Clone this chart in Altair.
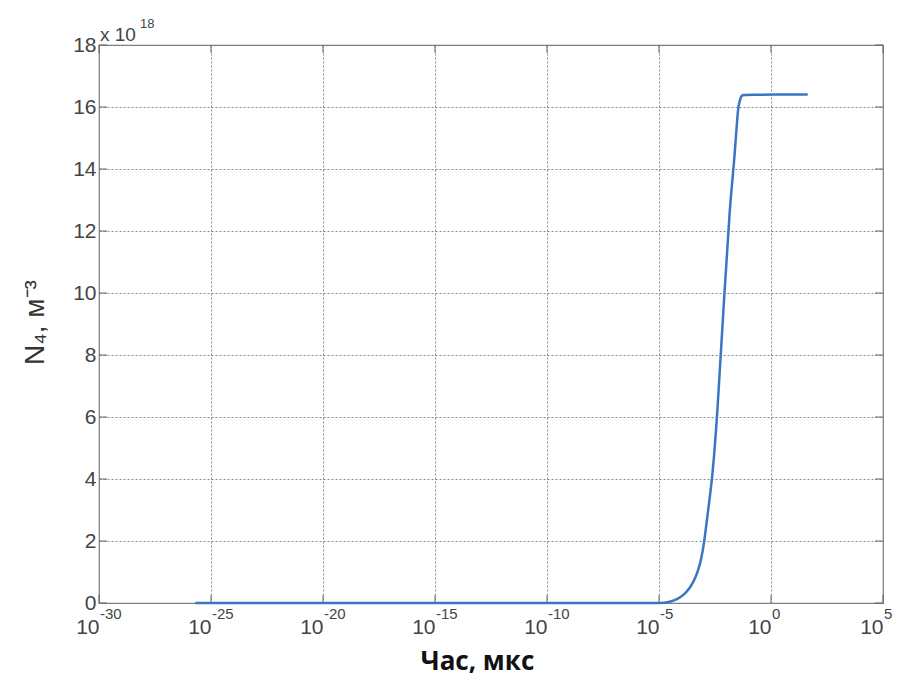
import altair as alt
import pandas as pd

# Curve: log10(time, мкс) and N4 in units of 1e18 м^-3
log_t = [-25.7, -15.0, -10.0, -5.3, -5.0, -4.6, -4.3, -4.0, -3.64, -3.2, -2.98,
         -2.85, -2.62, -2.40, -2.10, -1.82, -1.67, -1.55, -1.47, -1.38, -1.30,
         -1.25, 1.64]
n4 = [0.0, 0.0, 0.0, 0.0, 0.0, 0.02, 0.08, 0.2, 0.42, 1.06, 1.94,
      2.77, 4.0, 6.0, 9.8, 13.0, 14.0, 15.2, 16.0, 16.25, 16.38,
      16.4, 16.4]

x_exp = [-30, -25, -20, -15, -10, -5, 0, 5]
x_exp_labels = ["-30", "-25", "-20", "-15", "-10", "-5", "0", "5"]
y_ticks = [0, 2, 4, 6, 8, 10, 12, 14, 16, 18]

W, H = 784, 558

df = pd.DataFrame({"t": [10.0 ** e for e in log_t], "N": n4})
df_xt = pd.DataFrame({"t": [10.0 ** e for e in x_exp], "e": x_exp_labels})
df_yt = pd.DataFrame({"v": y_ticks})

x_scale = alt.Scale(type="log", domain=[1e-30, 1e5], nice=False)
y_scale = alt.Scale(domain=[0, 18], nice=False, zero=False)

x_axis = alt.Axis(
    values=[10.0 ** e for e in x_exp], labelExpr="'10'", labelAlign="right",
    labelBaseline="top", labelPadding=13, labelFontSize=21, labelFont="Liberation Sans",
    labelColor="#444", labelOverlap=False, labelFlush=False, labelBound=False,
    ticks=False, domain=False, grid=True, gridDash=[2, 2], gridColor="#888",
    gridWidth=1, title="Час, мкс", titleFont="Open Sans", titleFontWeight="bold",
    titleFontSize=26, titleColor="#111", titleX=378, titleY=66,
    titleAlign="center", titleBaseline="alphabetic",
)
y_axis = alt.Axis(
    values=y_ticks, labelFontSize=21, labelFont="Liberation Sans", labelColor="#444",
    labelPadding=3, labelOverlap=False, labelFlush=False, labelBound=False,
    ticks=False, domain=False, grid=True, gridDash=[2, 2], gridColor="#888",
    gridWidth=1, title="N₄, м⁻³", titleFont="Liberation Sans", titleFontSize=28,
    titleFontWeight="normal", titleColor="#333", titleAngle=270, titleX=-56,
    titleY=H / 2 - 2, titleAlign="center", titleBaseline="alphabetic",
)

line = alt.Chart(df).mark_line(
    color="#3a76c4", strokeWidth=2.5, interpolate="basis"
).encode(
    x=alt.X("t:Q", scale=x_scale, axis=x_axis),
    y=alt.Y("N:Q", scale=y_scale, axis=y_axis),
)

tick_style = dict(color="#666", strokeWidth=1)
ytl = alt.Chart(df_yt).mark_rule(**tick_style).encode(
    y=alt.Y("v:Q", scale=y_scale), x=alt.value(0), x2=alt.value(8))
ytr = alt.Chart(df_yt).mark_rule(**tick_style).encode(
    y=alt.Y("v:Q", scale=y_scale), x=alt.value(W - 8), x2=alt.value(W))
xtb = alt.Chart(df_xt).mark_rule(**tick_style).encode(
    x=alt.X("t:Q", scale=x_scale), y=alt.value(H - 8), y2=alt.value(H))
xtt = alt.Chart(df_xt).mark_rule(**tick_style).encode(
    x=alt.X("t:Q", scale=x_scale), y=alt.value(0), y2=alt.value(8))

exps = alt.Chart(df_xt).mark_text(
    align="left", baseline="top", fontSize=15, font="Liberation Sans",
    color="#444", dx=1,
).encode(x=alt.X("t:Q", scale=x_scale), y=alt.value(H + 4), text="e:N")

mult = alt.Chart(pd.DataFrame({"s": ["x 10"]})).mark_text(
    align="left", baseline="alphabetic", fontSize=19, font="Liberation Sans",
    color="#444",
).encode(x=alt.value(1), y=alt.value(-4), text="s:N")
mult_exp = alt.Chart(pd.DataFrame({"s": ["18"]})).mark_text(
    align="left", baseline="alphabetic", fontSize=13, font="Liberation Sans",
    color="#444",
).encode(x=alt.value(41), y=alt.value(-17), text="s:N")

chart = alt.layer(line, ytl, ytr, xtb, xtt, exps, mult, mult_exp).properties(
    width=W, height=H,
    autosize=alt.AutoSizeParams(type="none"),
    padding={"left": 91, "top": 37, "right": 10, "bottom": 73},
    background="white",
).configure_view(stroke="#777", strokeWidth=1.2)

chart.save("out.html", embed_options={"renderer": "svg", "actions": False})
